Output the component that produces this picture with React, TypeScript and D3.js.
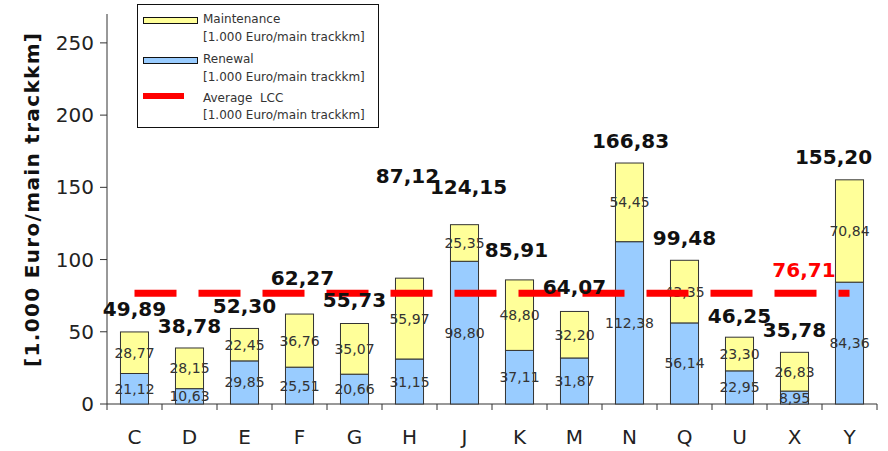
import React from "react";
import * as d3 from "d3";

// Categories and cost components, in 1.000 Euro per main track km
const categories = ["C", "D", "E", "F", "G", "H", "J", "K", "M", "N", "Q", "U", "X", "Y"];
const renewal = [21.12, 10.63, 29.85, 25.51, 20.66, 31.15, 98.8, 37.11, 31.87, 112.38, 56.14, 22.95, 8.95, 84.36];
const maintenance = [28.77, 28.15, 22.45, 36.76, 35.07, 55.97, 25.35, 48.8, 32.2, 54.45, 43.35, 23.3, 26.83, 70.84];
const totals = [49.89, 38.78, 52.3, 62.27, 55.73, 87.12, 124.15, 85.91, 64.07, 166.83, 99.48, 46.25, 35.78, 155.2];
const averageLCC = 76.71;
const yTicks = [0, 50, 100, 150, 200, 250];

// Placement of the total labels above each bar (baseline offset, horizontal shift)
const totalLabelRise = [16, 15, 15, 29, 17, 95, 31, 23, 17, 15, 15, 14, 15, 16];
const totalLabelShift = [0, 0, 0, 3, 0, -2, 4, -3, 0, 1, 0, 0, 0, -16];

const W = 888;
const H = 451;
const left = 107;
const right = 877;
const top = 14;
const bottom = 404;

const fmt = (v: number) => d3.format(".2f")(v).replace(".", ",");

export default function App() {
  const x = d3.scaleBand<string>().domain(categories).range([left, right]).padding(0);
  const y = d3.scaleLinear().domain([0, 270]).range([bottom, top]);
  const bw = x.bandwidth() * 0.51;
  const cx = (c: string) => (x(c) as number) + x.bandwidth() / 2;
  const font = "'DejaVu Sans', Verdana, sans-serif";
  const avgY = y(averageLCC);
  const boundaries = categories.map((c) => x(c) as number).concat([right]);

  return (
    <svg width={W} height={H} style={{ position: "absolute", left: 0, top: 0, background: "#fff" }} fontFamily={font}>
      {/* y axis title */}
      <text
        transform={`translate(32,200) rotate(-90)`}
        textAnchor="middle"
        dominantBaseline="central"
        fontSize={20}
        fontWeight="bold"
        fill="#111"
        textLength={334}
        lengthAdjust="spacing"
      >
        [1.000 Euro/main trackkm]
      </text>

      {/* y axis */}
      <line x1={left} x2={left} y1={top} y2={bottom} stroke="#333" />
      {yTicks.map((t) => (
        <g key={t}>
          <line x1={left - 7} x2={left} y1={y(t)} y2={y(t)} stroke="#333" />
          <text x={left - 13} y={y(t)} textAnchor="end" dominantBaseline="central" fontSize={20} fill="#222">
            {t}
          </text>
        </g>
      ))}

      {/* x axis */}
      <line x1={left} x2={right} y1={bottom} y2={bottom} stroke="#333" />
      {boundaries.map((b, i) => (
        <line key={i} x1={b} x2={b} y1={bottom} y2={bottom + 6} stroke="#333" />
      ))}
      {categories.map((c) => (
        <text key={c} x={cx(c)} y={444} textAnchor="middle" fontSize={20} fill="#222">
          {c}
        </text>
      ))}

      {/* stacked bars */}
      {categories.map((c, i) => {
        const r0 = y(0);
        const r1 = y(renewal[i]);
        const m1 = y(renewal[i] + maintenance[i]);
        return (
          <g key={c}>
            <rect x={cx(c) - bw / 2} y={r1} width={bw} height={r0 - r1} fill="#99CCFF" stroke="#333" strokeWidth={1} />
            <rect x={cx(c) - bw / 2} y={m1} width={bw} height={r1 - m1} fill="#FFFF99" stroke="#333" strokeWidth={1} />
          </g>
        );
      })}

      {/* segment value labels */}
      {categories.map((c, i) => {
        const r0 = y(0);
        const r1 = y(renewal[i]);
        const m1 = y(renewal[i] + maintenance[i]);
        return (
          <g key={c} fontSize={14} fill="#333" textAnchor="middle">
            <text x={cx(c)} y={(r0 + r1) / 2} dominantBaseline="central">
              {fmt(renewal[i])}
            </text>
            <text x={cx(c)} y={(r1 + m1) / 2} dominantBaseline="central">
              {fmt(maintenance[i])}
            </text>
          </g>
        );
      })}

      {/* average LCC dashed line */}
      <line
        x1={cx(categories[0])}
        x2={cx(categories[categories.length - 1])}
        y1={avgY}
        y2={avgY}
        stroke="#FF0000"
        strokeWidth={7}
        strokeDasharray="42 22"
      />

      {/* total labels */}
      {categories.map((c, i) => (
        <text
          key={c}
          x={cx(c) + totalLabelShift[i]}
          y={y(totals[i]) - totalLabelRise[i]}
          textAnchor="middle"
          fontSize={20}
          fontWeight="bold"
          fill="#111"
        >
          {fmt(totals[i])}
        </text>
      ))}
      <text x={804} y={avgY - 16} textAnchor="middle" fontSize={20} fontWeight="bold" fill="#FF0000">
        {fmt(averageLCC)}
      </text>

      {/* legend */}
      <g>
        <rect x={137.5} y={4.5} width={241} height={123} fill="#fff" stroke="#111" />
        <rect x={143.5} y={17.5} width={54} height={6} fill="#FFFF99" stroke="#111" />
        <rect x={143.5} y={57.5} width={54} height={6} fill="#99CCFF" stroke="#111" />
        <rect x={143} y={93} width={41} height={6} fill="#FF0000" />
        <g fontSize={12} fill="#333">
          <text x={203} y={23}>Maintenance</text>
          <text x={203} y={41}>[1.000 Euro/main trackkm]</text>
          <text x={203} y={63}>Renewal</text>
          <text x={203} y={81}>[1.000 Euro/main trackkm]</text>
          <text x={203} y={102} style={{ whiteSpace: "pre" }}>Average  LCC</text>
          <text x={203} y={119}>[1.000 Euro/main trackkm]</text>
        </g>
      </g>
    </svg>
  );
}
